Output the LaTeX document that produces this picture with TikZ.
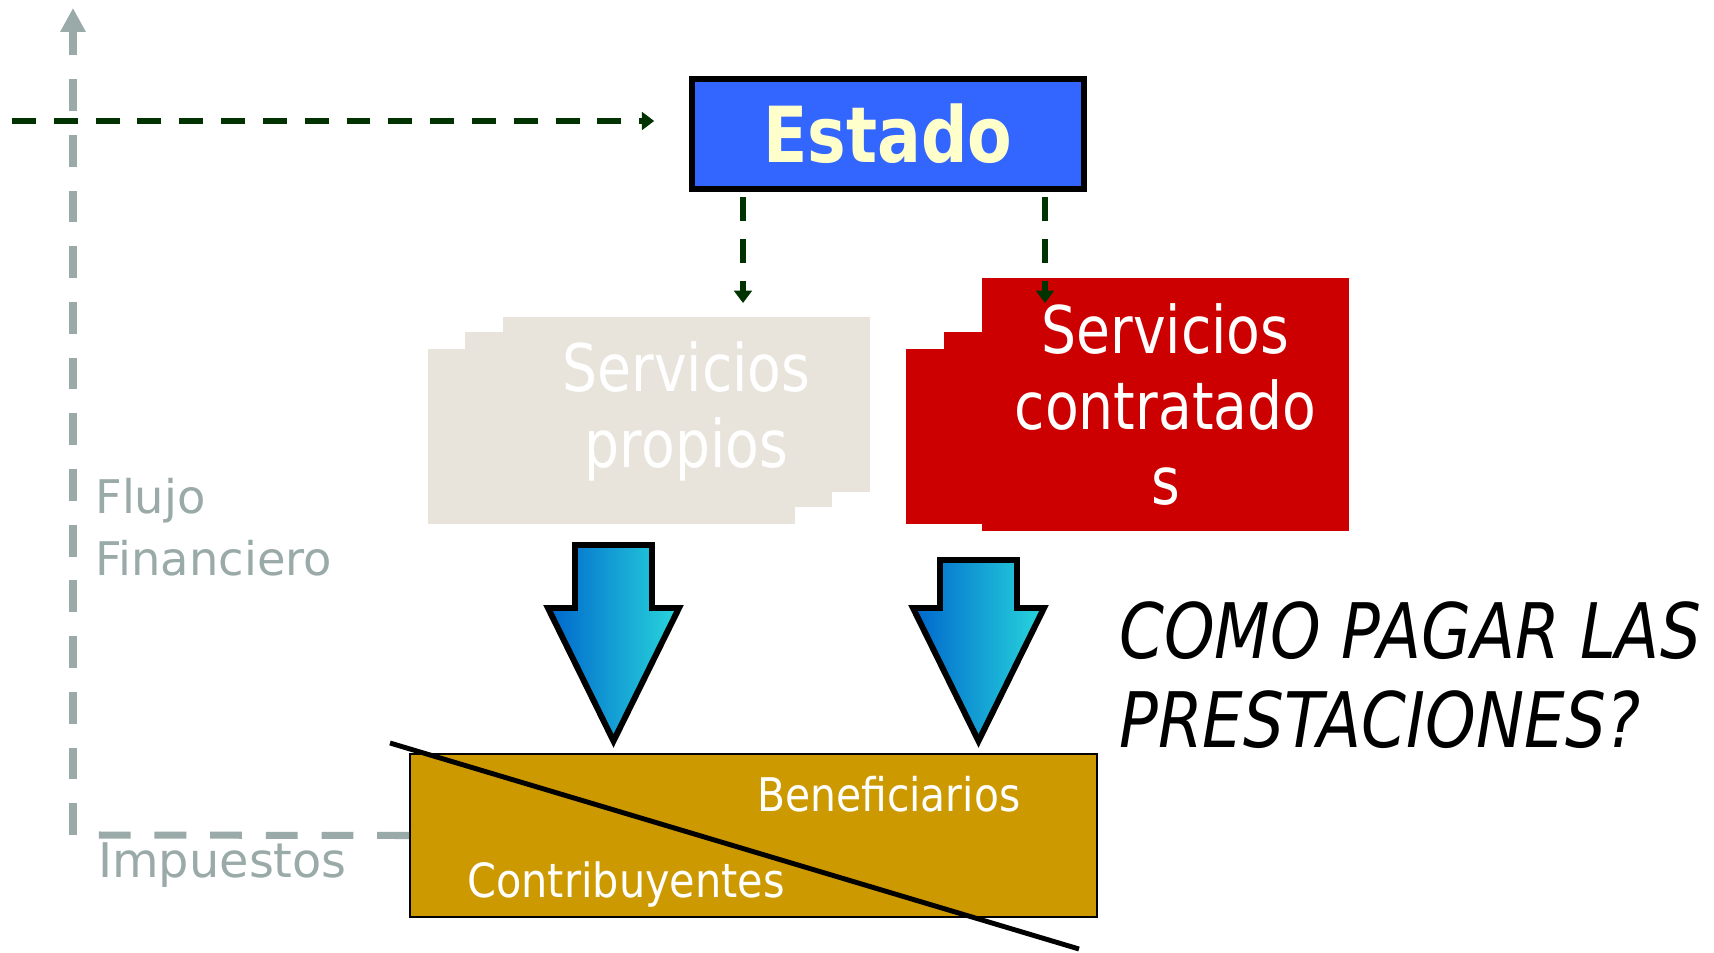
\documentclass[tikz,border=0pt]{standalone}
\usepackage{fontspec}
\setmainfont{DejaVu Sans}
\newfontfamily\tahoma{DejaVu Sans}[FakeStretch=0.84]
\newfontfamily\tahomamid{DejaVu Sans}[FakeStretch=0.88]
\usetikzlibrary{arrows.meta}
\usetikzlibrary{positioning}

\newdimen\px \px=0.02cm

\definecolor{azulestado}{RGB}{51,102,255}
\definecolor{crema}{RGB}{255,255,204}
\definecolor{verdeflujo}{RGB}{0,51,0}
\definecolor{grisflujo}{RGB}{153,170,168}
\definecolor{beige}{RGB}{232,228,220}
\definecolor{rojo}{RGB}{204,0,0}
\definecolor{oro}{RGB}{204,153,0}
\definecolor{azulosc}{RGB}{0,102,204}
\definecolor{azulmed}{RGB}{10,150,225}
\definecolor{cian}{RGB}{40,215,220}

\tikzset{
  flujo/.style={draw=verdeflujo, line width=3.4pt, dash pattern=on 13.6pt off 10.2pt,
    -{Triangle[length=7pt, width=10pt]}},
  eje/.style={draw=grisflujo, line width=4pt, dash pattern=on 18.1pt off 13.6pt},
  svc/.style={minimum width=367\px, minimum height=175\px, inner sep=0pt, text=white,
    align=center, font=\tahoma\fontsize{37.4}{43.1}\selectfont},
  gristxt/.style={text=grisflujo, inner sep=0pt, align=left},
  bloque/.style={draw=black, line width=3.4pt, left color=azulosc, middle color=azulmed, right color=cian},
}

\begin{document}
\begin{tikzpicture}[x=\px, y=-0.02cm]

  \useasboundingbox (0,0) rectangle (1714,953);

  % estado
  \node[draw=black, line width=3.4pt, fill=azulestado, text=crema, inner sep=0pt,
    minimum width=392\px, minimum height=110\px,
    font=\tahoma\bfseries\fontsize{44}{50}\selectfont] (estado) at (888,134) {Estado};

  % servicios propios (stacked sheets)
  \coordinate (cpropios) at (686.5,404.5);
  \node[svc, fill=beige] (propios-c) at ([shift={(-75,32)}]cpropios) {};
  \node[svc, fill=beige] (propios-b) at ([shift={(-38,15)}]cpropios) {};
  \node[svc, fill=beige, text depth=0pt] (propios) at (cpropios) {Servicios\\propios};

  % servicios contratados
  \coordinate (ccontrat) at (1165.5,404.5);
  \node[svc, fill=rojo] (contrat-c) at ([shift={(-76,32)}]ccontrat) {};
  \node[svc, fill=rojo] (contrat-b) at ([shift={(-38,15)}]ccontrat) {};
  \node[svc, fill=rojo, minimum height=253\px] (contrat) at (ccontrat) {Servicios\\contratado\\s};

  % financing flows
  \coordinate (inicio) at (12,121);
  \coordinate (tipA) at (743,303);
  \coordinate (tipB) at (1045,303);
  \draw[flujo, shorten >=19.8pt] (inicio) -- (inicio -| estado.west);
  \draw[flujo, shorten <=2.8pt] (estado.south -| tipA) -- (tipA);
  \draw[flujo, shorten <=2.8pt] (estado.south -| tipB) -- (tipB);

  % population box
  \node[draw=black, line width=1.1pt, fill=oro, inner sep=0pt,
    minimum width=687\px, minimum height=163\px] (poblacion) at (753.5,835.5) {};
  \node[text=white, inner sep=0pt, anchor=base west,
    font=\tahomamid\fontsize{26.4}{30}\selectfont] (benef) at (757,811) {Beneficiarios};
  \node[text=white, inner sep=0pt, anchor=base west,
    font=\tahomamid\fontsize{26.8}{30}\selectfont] (contrib) at (467,897) {Contribuyentes};

  % payment arrows
  \foreach \cx/\top in {613.5/545, 978.5/560}
    \draw[bloque] (\cx-38.5,\top) -- (\cx+38.5,\top) -- (\cx+38.5,608) -- (\cx+65.5,608)
      -- (\cx,741) -- (\cx-65.5,608) -- (\cx-38.5,608) -- cycle;

  % crossed out
  \draw[line width=2.8pt] (390,743) -- (1079,949);

  % gray axis
  \coordinate (cima) at (73,8);
  \coordinate (esquina) at (73,835);
  \coordinate (finimp) at (97,835);
  \draw[eje, -{Triangle[length=13.6pt, width=13.6pt]}] (esquina) -- (cima);
  \draw[eje] (poblacion.west) -- (finimp);

  \node[gristxt, anchor=base west, font=\fontsize{26.4}{35.1}\selectfont] (flujo) at (95,575) {Flujo\\Financiero};
  \node[gristxt, anchor=base west, font=\fontsize{27.2}{32}\selectfont] (impuestos) at (98,877) {Impuestos};

  % question
  \node[inner sep=0pt, anchor=base west, align=left,
    font=\tahoma\itshape\fontsize{43.6}{50.5}\selectfont] (pregunta) at (1119,747) {COMO PAGAR LAS\\PRESTACIONES?};

\end{tikzpicture}
\end{document}
